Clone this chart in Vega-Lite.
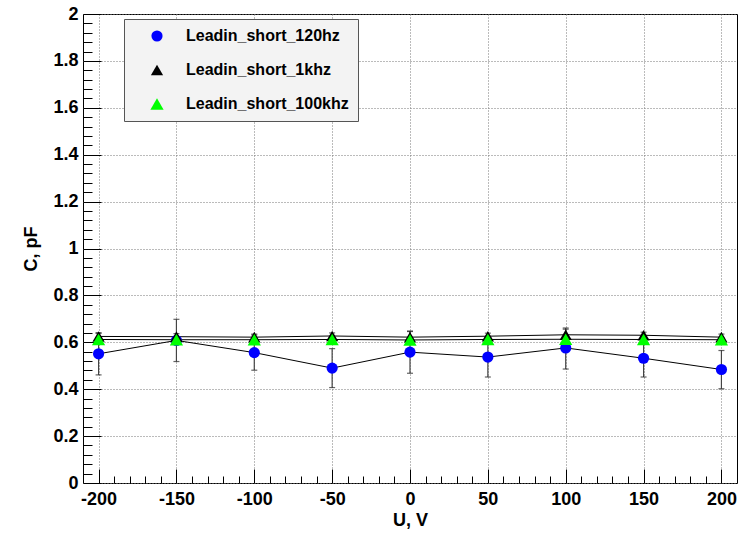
{
  "$schema": "https://vega.github.io/schema/vega-lite/v6.json",
  "autosize": "none",
  "width": 654,
  "height": 469,
  "padding": {"left": 83, "top": 14, "right": 10, "bottom": 51},
  "background": "white",
  "config": {
    "view": {"stroke": "#000", "strokeWidth": 1},
    "font": "Liberation Sans"
  },
  "data": {
    "values": [
      {"series": "Leadin_short_120hz", "U": -200, "C": 0.551, "lo": 0.461, "hi": 0.641},
      {"series": "Leadin_short_120hz", "U": -150, "C": 0.608, "lo": 0.518, "hi": 0.698},
      {"series": "Leadin_short_120hz", "U": -100, "C": 0.556, "lo": 0.481, "hi": 0.631},
      {"series": "Leadin_short_120hz", "U": -50, "C": 0.490, "lo": 0.407, "hi": 0.573},
      {"series": "Leadin_short_120hz", "U": 0, "C": 0.558, "lo": 0.468, "hi": 0.648},
      {"series": "Leadin_short_120hz", "U": 50, "C": 0.537, "lo": 0.452, "hi": 0.622},
      {"series": "Leadin_short_120hz", "U": 100, "C": 0.576, "lo": 0.486, "hi": 0.661},
      {"series": "Leadin_short_120hz", "U": 150, "C": 0.532, "lo": 0.452, "hi": 0.612},
      {"series": "Leadin_short_120hz", "U": 200, "C": 0.484, "lo": 0.402, "hi": 0.565},
      {"series": "Leadin_short_1khz", "U": -200, "C": 0.625, "lo": 0.612, "hi": 0.638},
      {"series": "Leadin_short_1khz", "U": -150, "C": 0.624, "lo": 0.611, "hi": 0.637},
      {"series": "Leadin_short_1khz", "U": -100, "C": 0.622, "lo": 0.609, "hi": 0.635},
      {"series": "Leadin_short_1khz", "U": -50, "C": 0.627, "lo": 0.614, "hi": 0.640},
      {"series": "Leadin_short_1khz", "U": 0, "C": 0.622, "lo": 0.598, "hi": 0.646},
      {"series": "Leadin_short_1khz", "U": 50, "C": 0.626, "lo": 0.613, "hi": 0.639},
      {"series": "Leadin_short_1khz", "U": 100, "C": 0.632, "lo": 0.608, "hi": 0.656},
      {"series": "Leadin_short_1khz", "U": 150, "C": 0.630, "lo": 0.617, "hi": 0.643},
      {"series": "Leadin_short_1khz", "U": 200, "C": 0.622, "lo": 0.609, "hi": 0.635},
      {"series": "Leadin_short_100khz", "U": -200, "C": 0.612, "lo": 0.604, "hi": 0.620},
      {"series": "Leadin_short_100khz", "U": -150, "C": 0.611, "lo": 0.603, "hi": 0.619},
      {"series": "Leadin_short_100khz", "U": -100, "C": 0.611, "lo": 0.603, "hi": 0.619},
      {"series": "Leadin_short_100khz", "U": -50, "C": 0.612, "lo": 0.604, "hi": 0.620},
      {"series": "Leadin_short_100khz", "U": 0, "C": 0.610, "lo": 0.602, "hi": 0.618},
      {"series": "Leadin_short_100khz", "U": 50, "C": 0.612, "lo": 0.604, "hi": 0.620},
      {"series": "Leadin_short_100khz", "U": 100, "C": 0.613, "lo": 0.605, "hi": 0.621},
      {"series": "Leadin_short_100khz", "U": 150, "C": 0.612, "lo": 0.604, "hi": 0.620},
      {"series": "Leadin_short_100khz", "U": 200, "C": 0.611, "lo": 0.603, "hi": 0.619}
    ]
  },
  "layer": [
    {
      "mark": {"type": "line", "color": "#000", "strokeWidth": 1},
      "encoding": {
        "x": {
          "field": "U", "type": "quantitative",
          "scale": {"domain": [-210, 210], "nice": false, "zero": false},
          "axis": {
            "orient": "bottom",
            "values": [-200, -150, -100, -50, 0, 50, 100, 150, 200],
            "labelExpr": "datum.value < 0 ? '-' + abs(datum.value) : '' + datum.value",
            "tickSize": -14, "tickColor": "#000", "tickWidth": 1,
            "domain": false,
            "grid": true, "gridDash": [1, 2], "gridColor": "#777", "gridWidth": 1,
            "labelFont": "Liberation Sans", "labelFontWeight": "bold", "labelFontSize": 18,
            "labelColor": "#000", "labelPadding": 21, "labelFlush": false,
            "title": "U, V", "titleFont": "Liberation Sans", "titleFontWeight": "bold",
            "titleFontSize": 18, "titleColor": "#000", "titlePadding": 3
          }
        },
        "y": {
          "field": "C", "type": "quantitative",
          "scale": {"domain": [0, 2], "nice": false, "zero": false},
          "axis": {
            "orient": "left",
            "values": [0, 0.2, 0.4, 0.6, 0.8, 1, 1.2, 1.4, 1.6, 1.8, 2],
            "labelExpr": "'' + datum.value",
            "tickSize": -18, "tickColor": "#000", "tickWidth": 1,
            "domain": false,
            "grid": true, "gridDash": [1, 2], "gridColor": "#777", "gridWidth": 1,
            "labelFont": "Liberation Sans", "labelFontWeight": "bold", "labelFontSize": 18,
            "labelColor": "#000", "labelPadding": 23, "labelFlush": false,
            "title": "C, pF", "titleFont": "Liberation Sans", "titleFontWeight": "bold",
            "titleFontSize": 18, "titleColor": "#000", "titlePadding": 12
          }
        },
        "detail": {"field": "series"}
      }
    },
    {
      "mark": {"type": "rule", "color": "#444", "strokeWidth": 1.2},
      "encoding": {
        "x": {
          "field": "U", "type": "quantitative",
          "axis": {
            "orient": "bottom",
            "values": [-190, -180, -170, -160, -140, -130, -120, -110, -90, -80, -70, -60, -40, -30, -20, -10, 10, 20, 30, 40, 60, 70, 80, 90, 110, 120, 130, 140, 160, 170, 180, 190],
            "tickSize": -7, "tickColor": "#000", "tickWidth": 1,
            "domain": false, "grid": false, "labels": false, "title": null
          }
        },
        "y": {
          "field": "lo", "type": "quantitative",
          "axis": {
            "orient": "left",
            "values": [0.04, 0.08, 0.12, 0.16, 0.24, 0.28, 0.32, 0.36, 0.44, 0.48, 0.52, 0.56, 0.64, 0.68, 0.72, 0.76, 0.84, 0.88, 0.92, 0.96, 1.04, 1.08, 1.12, 1.16, 1.24, 1.28, 1.32, 1.36, 1.44, 1.48, 1.52, 1.56, 1.64, 1.68, 1.72, 1.76, 1.84, 1.88, 1.92, 1.96],
            "tickSize": -9, "tickColor": "#000", "tickWidth": 1,
            "domain": false, "grid": false, "labels": false, "title": null
          }
        },
        "y2": {"field": "hi"}
      }
    },
    {
      "mark": {"type": "tick", "orient": "horizontal", "size": 6, "thickness": 1.2, "color": "#222"},
      "encoding": {
        "x": {"field": "U", "type": "quantitative", "axis": null},
        "y": {"field": "lo", "type": "quantitative", "axis": null}
      }
    },
    {
      "mark": {"type": "tick", "orient": "horizontal", "size": 6, "thickness": 1.2, "color": "#222"},
      "encoding": {
        "x": {"field": "U", "type": "quantitative", "axis": null},
        "y": {"field": "hi", "type": "quantitative", "axis": null}
      }
    },
    {
      "mark": {"type": "point", "filled": true, "opacity": 1, "strokeWidth": 0},
      "encoding": {
        "x": {"field": "U", "type": "quantitative", "axis": null},
        "y": {"field": "C", "type": "quantitative", "axis": null},
        "size": {
          "field": "series", "type": "nominal",
          "scale": {"domain": ["Leadin_short_120hz", "Leadin_short_1khz", "Leadin_short_100khz"], "range": [125, 175, 175]},
          "legend": null
        },
        "color": {
          "field": "series", "type": "nominal",
          "scale": {"domain": ["Leadin_short_120hz", "Leadin_short_1khz", "Leadin_short_100khz"], "range": ["#0000ff", "#000000", "#00ff00"]},
          "legend": {
            "title": null, "orient": "none", "legendX": 41, "legendY": 5,
            "fillColor": "#f3f3f3", "strokeColor": "#555", "padding": 9,
            "rowPadding": 18, "symbolOffset": 16, "labelOffset": 21,
            "symbolSize": 130, "symbolStrokeWidth": 0,
            "labelFont": "Liberation Sans", "labelFontWeight": "bold", "labelFontSize": 16,
            "labelColor": "#000", "labelLimit": 300
          }
        },
        "shape": {
          "field": "series", "type": "nominal",
          "scale": {"domain": ["Leadin_short_120hz", "Leadin_short_1khz", "Leadin_short_100khz"], "range": ["circle", "triangle-up", "triangle-up"]},
          "legend": {
            "title": null, "orient": "none", "legendX": 41, "legendY": 5,
            "fillColor": "#f3f3f3", "strokeColor": "#555", "padding": 9,
            "rowPadding": 18, "symbolOffset": 16, "labelOffset": 21,
            "symbolSize": 130, "symbolStrokeWidth": 0,
            "labelFont": "Liberation Sans", "labelFontWeight": "bold", "labelFontSize": 16,
            "labelColor": "#000", "labelLimit": 300
          }
        }
      }
    }
  ],
  "resolve": {"axis": {"x": "independent", "y": "independent"}}
}
